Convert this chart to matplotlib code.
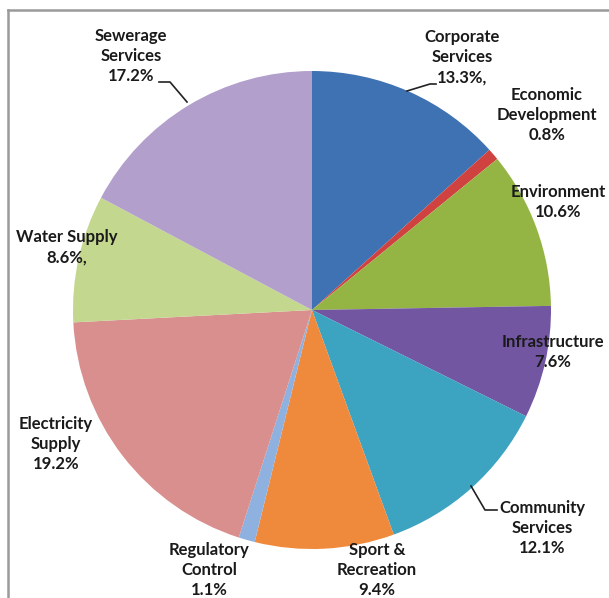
import numpy as np
import matplotlib
matplotlib.use('Agg')
import matplotlib.pyplot as plt
from matplotlib.lines import Line2D

W, H = 609, 598

categories = ['Corporate\nServices', 'Economic\nDevelopment', 'Environment', 'Infrastructure',
              'Community\nServices', 'Sport &\nRecreation', 'Regulatory\nControl',
              'Electricity\nSupply', 'Water Supply', 'Sewerage\nServices']
shares = [13.3, 0.8, 10.6, 7.6, 12.1, 9.4, 1.1, 19.2, 8.6, 17.2]
pct_labels = ['13.3%,', '0.8%', '10.6%', '7.6%', '12.1%', '9.4%', '1.1%', '19.2%', '8.6%,', '17.2%']
colors = ['#3f72b3', '#d0423f', '#94b544', '#7356a2', '#3ca3c1', '#ef8a3c',
          '#8fb1df', '#d98f8e', '#c3d78f', '#b29fcb']

# label centres in pixel coordinates (x, y from top)
label_pos = [(462, 57), (547, 115), (558, 202), (553, 352), (542, 528),
             (377, 570), (209, 570), (56, 444), (67, 247), (131, 56)]

plt.rcParams['font.family'] = ['Lato', 'DejaVu Sans']

fig = plt.figure(figsize=(W / 100, H / 100), dpi=100)
ax = fig.add_axes([0, 0, 1, 1])

cx, cy, r = 312, H - 310, 239
ax.pie(shares, colors=colors, startangle=90, counterclock=False,
       center=(cx, cy), radius=r, wedgeprops=dict(linewidth=0))
ax.set_xlim(0, W)
ax.set_ylim(0, H)
ax.set_aspect('equal')
ax.axis('off')

for name, pct, (lx, ly) in zip(categories, pct_labels, label_pos):
    ax.text(lx, H - ly, name + '\n' + pct, ha='center', va='center',
            fontsize=12, fontweight='bold', color='#1a1a1a', linespacing=1.33)

# leader lines
leaders = [
    [(159, 82), (170, 82), (187, 102)],   # Sewerage
    [(436, 84), (430, 84), (407, 91)],    # Corporate
    [(497, 510), (485, 510), (471, 486)], # Community
]
for pts in leaders:
    xs = [p[0] for p in pts]
    ys = [H - p[1] for p in pts]
    ax.plot(xs, ys, color='#222222', linewidth=1.2)

# chart frame (continues past right and bottom edges)
fig.add_artist(Line2D([8 / W, 8 / W], [0, 1 - 10 / H], transform=fig.transFigure,
                      color='#9a9a9a', linewidth=1.8))
fig.add_artist(Line2D([8 / W, 1], [1 - 10 / H, 1 - 10 / H], transform=fig.transFigure,
                      color='#9a9a9a', linewidth=1.8))

fig.savefig('out.png', dpi=100)
